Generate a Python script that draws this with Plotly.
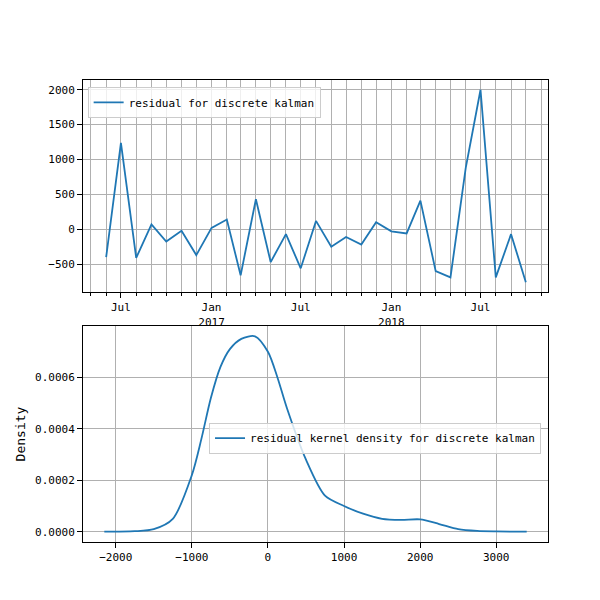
import plotly.graph_objects as go
from plotly.subplots import make_subplots
import pandas as pd

months = pd.date_range("2016-06-01", "2018-10-01", freq="MS")
residual = [-400, 1240, -410, 70, -175, -20, -370, 20, 140, -660, 430, -470, -70, -560, 120,
            -250, -110, -220, 100, -30, -60, 410, -600, -690, 880, 2000, -690, -70, -760]

kde_x = [-2150, -1750, -1500, -1250, -1000, -875, -750, -625, -500, -350, -170, 0, 125, 250, 500, 750, 1000,
         1250, 1500, 1750, 2000, 2250, 2500, 2750, 3000, 3400]
kde_y = [0.0, 0.000002, 0.00001, 0.00005, 0.00022, 0.00036, 0.00052, 0.00064, 0.00071, 0.00075, 0.00076,
         0.0007, 0.0006, 0.00048, 0.00028, 0.00014, 0.0001, 0.00007, 0.00005, 0.000046, 0.000048,
         0.00003, 0.00001, 0.000003, 0.000001, 0.0]

tick_dates = ["2016-07-01", "2017-01-01", "2017-07-01", "2018-01-01", "2018-07-01"]
tick_text = ["Jul", "Jan<br>2017", "Jul", "Jan<br>2018", "Jul"]

blue = "#1f77b4"
fig = make_subplots(rows=2, cols=1, vertical_spacing=0.07)
fig.add_trace(go.Scatter(x=months, y=residual, mode="lines", line=dict(color=blue, width=1.8),
                         name="residual for discrete kalman", legend="legend", showlegend=True), row=1, col=1)
fig.add_trace(go.Scatter(x=kde_x, y=kde_y, mode="lines",
                         line=dict(color=blue, width=1.8, shape="spline", smoothing=0.8),
                         name="residual kernel density for discrete kalman", legend="legend2", showlegend=True),
              row=2, col=1)

ax = dict(showline=True, mirror=True, linecolor="black", linewidth=1, ticks="outside",
          tickcolor="black", gridcolor="#b0b0b0", showgrid=True, zeroline=False, automargin=False)
fig.update_xaxes(**ax)
fig.update_yaxes(**ax)
fig.update_xaxes(tickvals=tick_dates, ticktext=tick_text, range=["2016-04-15", "2018-11-15"],
                 minor=dict(dtick="M1", tick0="2016-01-01", ticks="outside", ticklen=3,
                            showgrid=True, gridcolor="#b0b0b0"), row=1, col=1)
fig.update_yaxes(tickvals=[-500, 0, 500, 1000, 1500, 2000], range=[-900, 2140], row=1, col=1)
fig.update_xaxes(tickvals=[-2000, -1000, 0, 1000, 2000, 3000], range=[-2430, 3680], row=2, col=1)
fig.update_yaxes(tickvals=[0, 0.0002, 0.0004, 0.0006], tickformat=".4f", range=[-0.00004, 0.0008],
                 title_text="Density", title_standoff=6, row=2, col=1)
fig.update_layout(
    width=600, height=600, template="none", plot_bgcolor="white", paper_bgcolor="white",
    margin=dict(l=75, r=60, t=72, b=66),
    font=dict(family="DejaVu Sans Mono", size=11, color="black"),
    xaxis=dict(domain=[0, 1]), yaxis=dict(domain=[0.541, 1]), yaxis2=dict(domain=[0, 0.4675]),
    legend=dict(x=0.01, y=0.985, xanchor="left", yanchor="top", bordercolor="#cccccc", borderwidth=1,
                bgcolor="rgba(255,255,255,0.8)"),
    legend2=dict(x=0.985, y=0.225, xanchor="right", yanchor="middle", bordercolor="#cccccc", borderwidth=1,
                 bgcolor="rgba(255,255,255,0.8)"),
)
fig.write_html("out.html")
